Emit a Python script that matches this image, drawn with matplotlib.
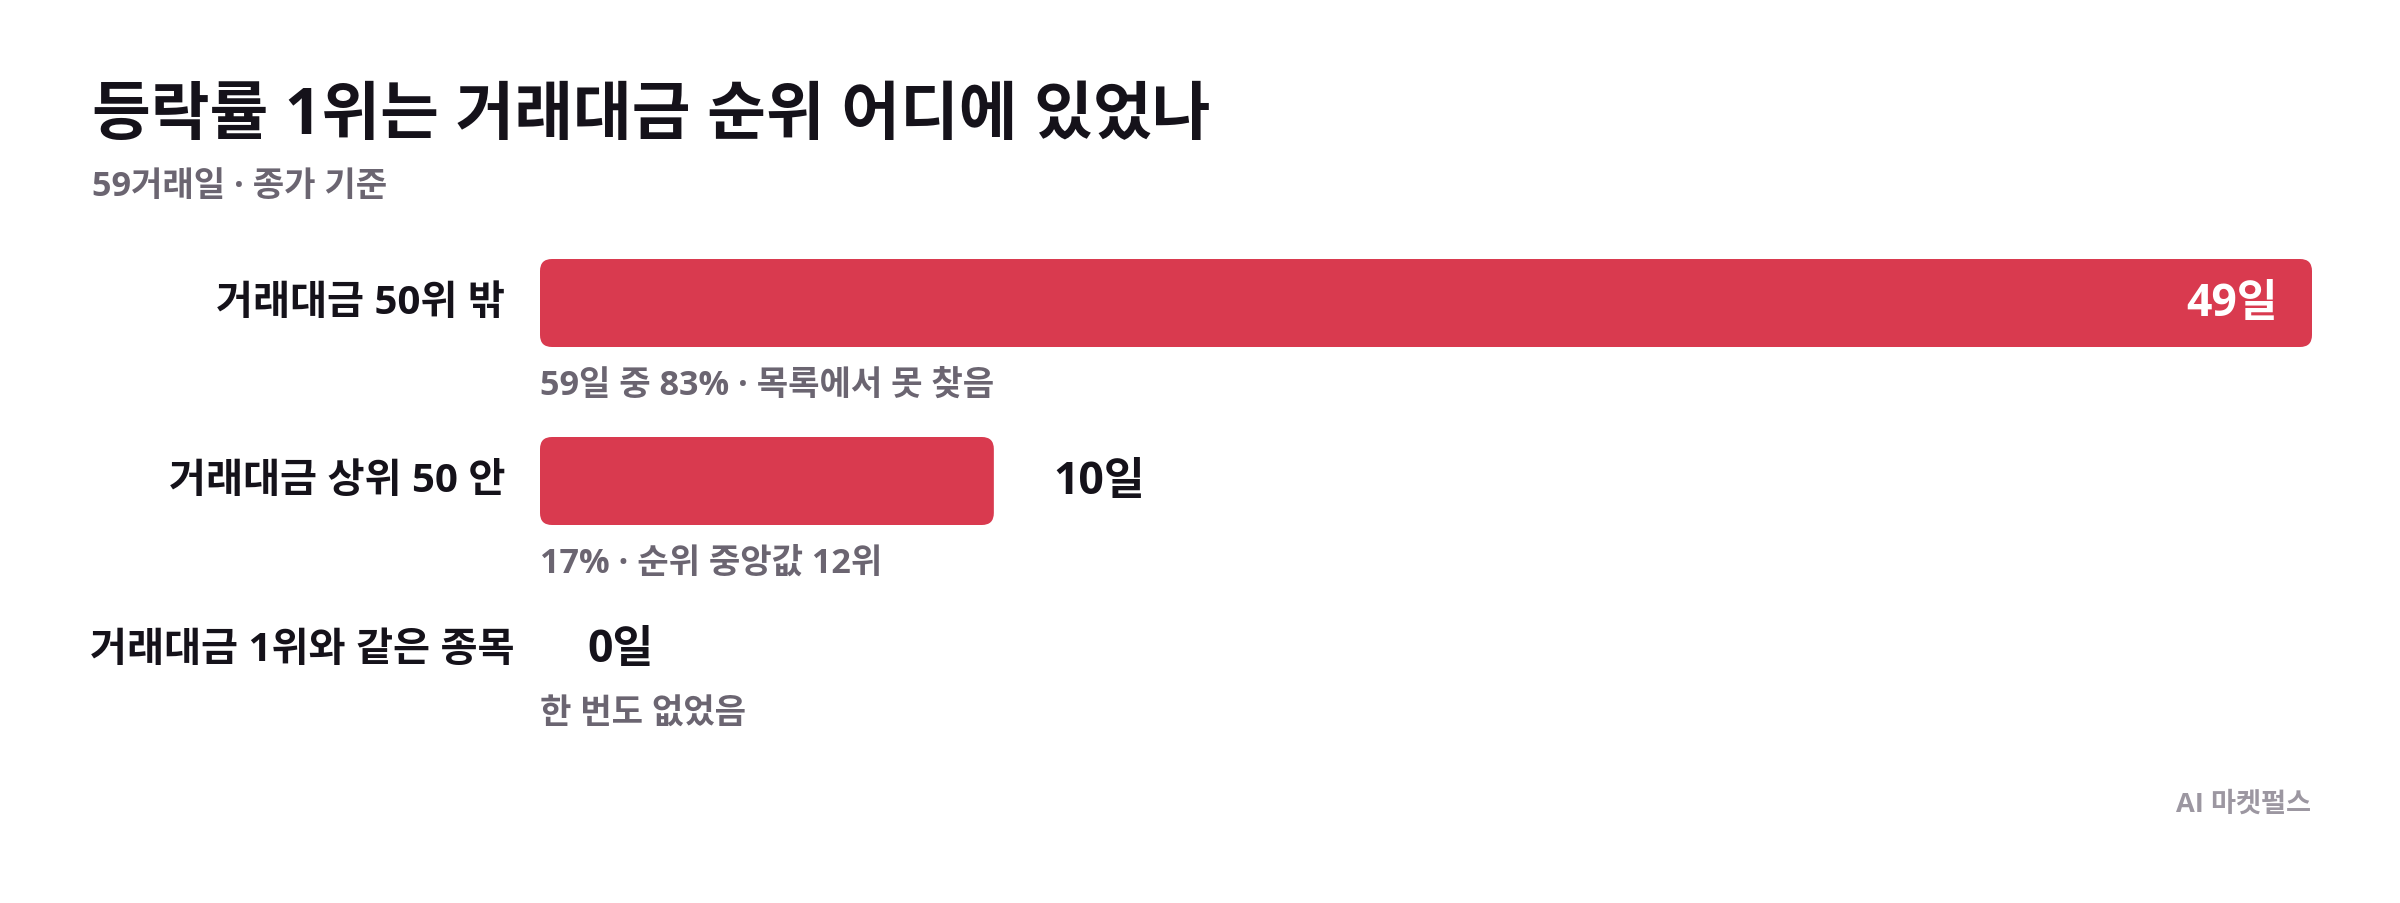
import matplotlib
matplotlib.use('Agg')
import matplotlib.pyplot as plt
from matplotlib.patches import FancyBboxPatch

# Latin glyphs from Open Sans, Hangul falls through to the CJK family
plt.rcParams['font.family'] = ['Open Sans', 'Noto Sans CJK KR', 'DejaVu Sans']

title = '등락률 1위는 거래대금 순위 어디에 있었나'
subtitle = '59거래일 · 종가 기준'
source = 'AI 마켓펄스'

labels = ['거래대금 50위 밖', '거래대금 상위 50 안', '거래대금 1위와 같은 종목']
days = [49, 10, 0]
# bar lengths as drawn in the picture (the short bar is drawn a bit longer than 10/49)
bar_len = [49, 12.55, 0]
notes = ['59일 중 83% · 목록에서 못 찾음', '17% · 순위 중앙값 12위', '한 번도 없었음']

RED = '#d93a4f'
DARK = '#15121a'
GRAY = '#6b6571'
LIGHT = '#9c97a1'

W, H, DPI = 2400, 904, 200
fig = plt.figure(figsize=(W / DPI, H / DPI), dpi=DPI)
fig.patch.set_facecolor('white')

# bar track: pixels 540..2312, rows every 178 px starting at 304 from top
x0, x1 = 540, 2312
row0, step = 304, 178
xmax = max(bar_len)
px = xmax / (x1 - x0)          # data units per pixel in x
py = 1.0 / step                # data units per pixel in y
ax = fig.add_axes([x0 / W, 0, (x1 - x0) / W, 1])
ax.set_xlim(0, xmax)
ax.set_ylim((H - row0) / step, -row0 / step)
ax.axis('off')

row_y = [0, 1, 1.944]
bar_h = 88 * py

bars = ax.barh(row_y, bar_len, height=bar_h, color='none')
for b in bars:
    w = b.get_width()
    if w <= 0:
        continue
    p = FancyBboxPatch((b.get_x(), b.get_y()), w, b.get_height(),
                       boxstyle='round,pad=0,rounding_size=%f' % (12 * px),
                       mutation_aspect=py / px, facecolor=RED, edgecolor='none')
    ax.add_patch(p)

fig.canvas.draw()
r = fig.canvas.get_renderer()

for i, (lab, d, bl, note) in enumerate(zip(labels, days, bar_len, notes)):
    y = row_y[i]
    t = ax.text(-35 * px, y, lab, ha='right', va='center', fontsize=14.5,
                fontweight='bold', color=DARK)
    bb = t.get_window_extent(r)
    lab_right = -35 * px
    if bb.x0 < 90:
        # too wide for the label column: starts at the left margin instead
        t.set_ha('left')
        t.set_x(-450 * px)
        lab_right = -450 * px + bb.width * px
    if bl > 0.5 * xmax:
        ax.text(bl - 34 * px, y, '%d일' % d, ha='right', va='center',
                fontsize=16, fontweight='bold', color='white')
    else:
        if bl > 0:
            vx = bl + 60 * px
        else:
            vx = max(47 * px, lab_right + 70 * px)
        ax.text(vx, y, '%d일' % d, ha='left', va='center',
                fontsize=16, fontweight='bold', color=DARK)
    dy = 82 if bl > 0 else 65
    ax.text(0, y + dy * py, note, ha='left', va='center',
            fontsize=12.3, fontweight='bold', color=GRAY)

fig.text(92 / W, 1 - 117 / H, title, ha='left', va='center', fontsize=23,
         fontweight='bold', color=DARK)
fig.text(92 / W, 1 - 187 / H, subtitle, ha='left', va='center', fontsize=12.3,
         fontweight='bold', color=GRAY)
fig.text(2311 / W, 1 - 805 / H, source, ha='right', va='center', fontsize=9.8,
         fontweight='bold', color=LIGHT)

fig.savefig('out.png', dpi=DPI, facecolor='white')
